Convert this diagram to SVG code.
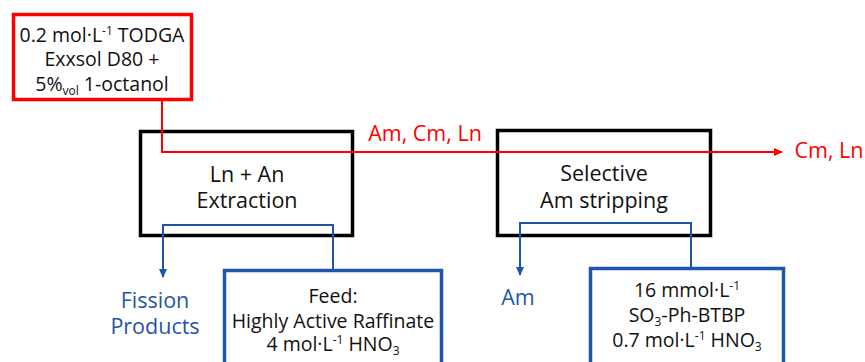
<svg xmlns="http://www.w3.org/2000/svg" width="865" height="362" viewBox="0 0 865 362">
<style>
text{font-family:"Open Sans","Noto Sans","DejaVu Sans",sans-serif;font-size:19.5px;text-anchor:middle;fill:#111}
.big{font-size:21.5px}
.red{fill:#FF0000}
.blue{fill:#1F56A6}
.sub{font-size:12px}
.box{fill:#fff;stroke:#000;stroke-width:3.5}
.rbox{fill:#fff;stroke:#FF0000;stroke-width:3.5}
.bbox{fill:#fff;stroke:#1F56A6;stroke-width:3.5}
.rl{fill:none;stroke:#FF0000;stroke-width:2}
.bl{fill:none;stroke:#1F56A6;stroke-width:2}
</style>
<defs>
<marker id="ar" markerWidth="10" markerHeight="10" refX="8" refY="5" orient="auto" markerUnits="userSpaceOnUse"><path d="M0,1 L9,5 L0,9 Z" fill="#FF0000"/></marker>
<marker id="ab" markerWidth="10" markerHeight="10" refX="8" refY="5" orient="auto" markerUnits="userSpaceOnUse"><path d="M0,1 L9,5 L0,9 Z" fill="#1F56A6"/></marker>
</defs>
<g id="extraction">
<rect class="box" x="140.5" y="131.5" width="212" height="104"/>
<text class="big"><tspan x="247" y="182">Ln + An</tspan><tspan x="247" y="208">Extraction</tspan></text>
</g>
<g id="stripping">
<rect class="box" x="497.5" y="130.5" width="213" height="105"/>
<text class="big"><tspan x="604" y="181">Selective</tspan><tspan x="604" y="208">Am stripping</tspan></text>
</g>
<g id="connectors">
<path class="rl" d="M162,100 V152 H782" marker-end="url(#ar)"/>
<path class="bl" d="M333,270 V225 H163 V277" marker-end="url(#ab)"/>
<path class="bl" d="M691,268 V223 H520 V275" marker-end="url(#ab)"/>
</g>
<g id="solvent">
<rect class="rbox" x="13.5" y="14.5" width="178" height="85"/>
<text><tspan x="102" y="42">0.2 mol·L</tspan><tspan class="sub" dy="-7">-1</tspan><tspan dy="7"> TODGA</tspan><tspan x="102" y="66">Exxsol D80 +</tspan><tspan x="102" y="91">5%</tspan><tspan class="sub" dy="4">vol</tspan><tspan dy="-4"> 1-octanol</tspan></text>
</g>
<g id="feed">
<rect class="bbox" x="224.5" y="270.5" width="217" height="110"/>
<text><tspan x="333" y="303">Feed:</tspan><tspan x="333" y="328">Highly Active Raffinate</tspan><tspan x="333" y="351">4 mol·L</tspan><tspan class="sub" dy="-7">-1</tspan><tspan dy="7"> HNO</tspan><tspan class="sub" dy="4">3</tspan></text>
</g>
<g id="strip-reagent">
<rect class="bbox" x="590.5" y="268.5" width="193" height="110"/>
<text><tspan x="687" y="297">16 mmol·L</tspan><tspan class="sub" dy="-7">-1</tspan><tspan x="687" y="322">SO</tspan><tspan class="sub" dy="4">3</tspan><tspan dy="-4">-Ph-BTBP</tspan><tspan x="687" y="347">0.7 mol·L</tspan><tspan class="sub" dy="-7">-1</tspan><tspan dy="7"> HNO</tspan><tspan class="sub" dy="4">3</tspan></text>
</g>
<g id="labels">
<text class="red big" x="425" y="141">Am, Cm, Ln</text>
<text class="red big" x="829" y="158">Cm, Ln</text>
<text class="blue big"><tspan x="155" y="308">Fission</tspan><tspan x="155" y="334">Products</tspan></text>
<text class="blue big" x="518" y="305">Am</text>
</g>
</svg>
